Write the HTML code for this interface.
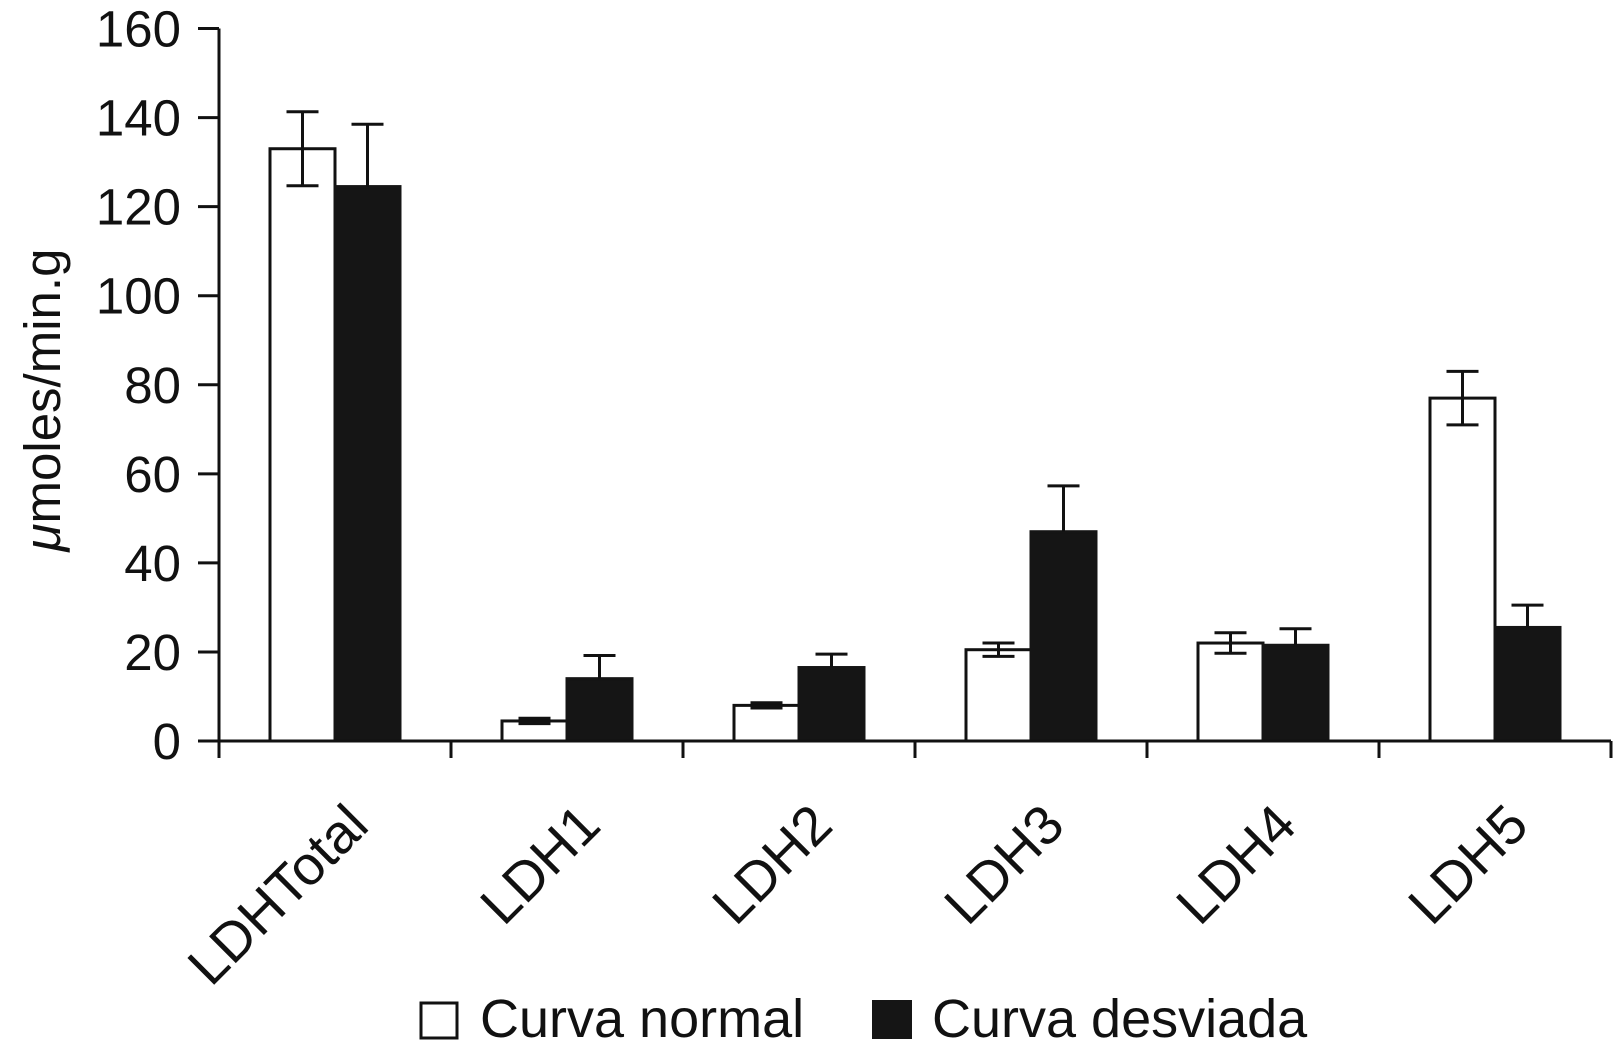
<!DOCTYPE html>
<html><head><meta charset="utf-8"><style>
html,body{margin:0;padding:0;background:#fff;}
svg{display:block;font-family:"Liberation Sans",Arial,sans-serif;}
</style></head><body>
<svg id="chart" width="1613" height="1056" viewBox="0 0 1613 1056" xmlns="http://www.w3.org/2000/svg"></svg>
<script>
const categories = ["LDHTotal","LDH1","LDH2","LDH3","LDH4","LDH5"];
const normalValues = [133, 4.5, 8, 20.5, 22, 77];
const normalErr = [8.3, 0.6, 0.6, 1.5, 2.3, 6];
const desviadaValues = [124.5, 14, 16.5, 47, 21.5, 25.5];
const desviadaErr = [14, 5.2, 3, 10.3, 3.7, 5];
const yTicks = [0,20,40,60,80,100,120,140,160];

const NS = "http://www.w3.org/2000/svg";
const svg = document.getElementById("chart");
const x0 = 219, x1 = 1611, yBase = 741, yTop = 28.5, yMax = 160;
const groupW = (x1 - x0) / categories.length;
const barW = 65;
function y(v){ return yBase - v / yMax * (yBase - yTop); }
function gx(i){ return x0 + groupW * (i + 0.5); }
function mk(tag, attrs, parent){
  const el = document.createElementNS(NS, tag);
  for (const k in attrs) el.setAttribute(k, attrs[k]);
  (parent || svg).appendChild(el);
  return el;
}
const LW = 3;

categories.forEach((c, i) => {
  const cx = gx(i);
  const g = mk("g", {});
  
  
  const rn = mk("rect", {x: cx - barW, y: y(normalValues[i]), width: barW, height: yBase - y(normalValues[i]), fill: "#fff", stroke: "#111", "stroke-width": LW}, g);
  
  
  const rd = mk("rect", {x: cx, y: y(desviadaValues[i]), width: barW, height: yBase - y(desviadaValues[i]), fill: "#151515", stroke: "#151515", "stroke-width": LW}, g);
  
  
  const nx = cx - barW / 2, nt = y(normalValues[i] + normalErr[i]), nb = y(normalValues[i] - normalErr[i]);
  const en = mk("path", {d: `M${nx},${nt}V${nb}M${nx-16},${nt}H${nx+16}M${nx-16},${nb}H${nx+16}`, stroke: "#111", "stroke-width": LW, fill: "none"}, g);
  
  
  const dx = cx + barW / 2, dt = y(desviadaValues[i] + desviadaErr[i]), dv = y(desviadaValues[i]);
  const ed = mk("path", {d: `M${dx},${dt}V${dv}M${dx-16},${dt}H${dx+16}`, stroke: "#111", "stroke-width": LW, fill: "none"}, g);
  
  
});

const yAxis = mk("path", {d: `M${x0},${yTop}V${yBase}`, stroke: "#111", "stroke-width": LW, fill: "none"});


yTicks.forEach(t => {
  const tk = mk("path", {d: `M${x0-21},${y(t)}H${x0}`, stroke: "#111", "stroke-width": LW});
  
  
  const tl = mk("text", {x: 181, y: y(t) + 18, "text-anchor": "end", "font-size": 51, fill: "#111"});
  tl.textContent = t;
  
  
});
const xAxis = mk("path", {d: `M${x0},${yBase}H${x1}`, stroke: "#111", "stroke-width": LW, fill: "none"});


for (let i = 0; i <= categories.length; i++) {
  const tx = x0 + groupW * i;
  const tk = mk("path", {d: `M${tx},${yBase}V${yBase+17}`, stroke: "#111", "stroke-width": LW});
  
  
}
categories.forEach((c, i) => {
  const ax = gx(i) + 36, ay = 828;
  const tl = mk("text", {x: ax, y: ay, "text-anchor": "end", "font-size": 55, fill: "#111", transform: `rotate(-45 ${ax} ${ay})`});
  tl.textContent = c;
  
  
});
const yt = mk("text", {x: 60, y: 400, "text-anchor": "middle", "font-size": 51, fill: "#111", transform: "rotate(-90 60 400)"});
yt.innerHTML = '<tspan font-style="italic">μ</tspan>moles/min.g';



const lg = mk("g", {});


const lb1 = mk("rect", {x: 421, y: 1003, width: 36, height: 35, fill: "#fff", stroke: "#111", "stroke-width": 3}, lg);


const lt1 = mk("text", {x: 480, y: 1037, "font-size": 54, fill: "#111"}, lg);
lt1.textContent = "Curva normal";


const lb2 = mk("rect", {x: 872, y: 1000, width: 40, height: 39, fill: "#151515"}, lg);


const lt2 = mk("text", {x: 932, y: 1037, "font-size": 54, fill: "#111"}, lg);
lt2.textContent = "Curva desviada";


</script>
</body></html>
